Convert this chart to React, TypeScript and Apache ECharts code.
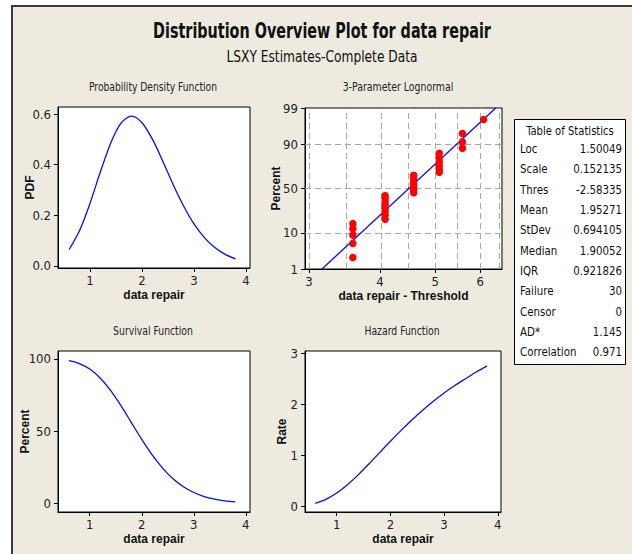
import React, { useEffect, useRef } from "react";
import * as echarts from "echarts";

// ---------- data ----------
const repairGrid = [0.6, 0.8, 1.0, 1.2, 1.4, 1.6, 1.8, 2.0, 2.2, 2.4, 2.6, 2.8, 3.0, 3.2, 3.4, 3.6, 3.8];
const pdfValues = [0.065, 0.14, 0.247, 0.372, 0.486, 0.565, 0.592, 0.566, 0.501, 0.414, 0.321, 0.237, 0.166, 0.112, 0.073, 0.046, 0.028];
const survivalValues = [98.8, 96.8, 93.0, 86.8, 78.2, 67.6, 55.9, 44.3, 33.5, 24.4, 17.0, 11.5, 7.5, 4.7, 2.9, 1.7, 1.0];
const hazardValues = [0.066, 0.144, 0.266, 0.428, 0.622, 0.836, 1.058, 1.279, 1.493, 1.696, 1.887, 2.063, 2.225, 2.371, 2.503, 2.634, 2.748];

// probability plot points (data repair - threshold, percent)
const probX = [
  3.583, 3.583, 3.583, 3.583, 3.583,
  4.083, 4.083, 4.083, 4.083, 4.083, 4.083, 4.083, 4.083,
  4.583, 4.583, 4.583, 4.583, 4.583, 4.583, 4.583,
  5.083, 5.083, 5.083, 5.083, 5.083, 5.083,
  5.583, 5.583, 5.583,
  6.083,
];
const probPercent = [
  2.3, 5.6, 8.9, 12.2, 15.5,
  18.8, 22.0, 25.3, 28.6, 31.9, 35.2, 38.5, 41.8,
  45.1, 48.4, 51.6, 54.9, 58.2, 61.5, 64.8,
  68.1, 71.4, 74.7, 78.0, 81.3, 84.5,
  87.8, 91.1, 94.4,
  97.7,
];
const fitLineX = [3.162, 6.388];
const fitLinePercent = [1, 99];

const percentTicks = [1, 10, 50, 90, 99];
const percentGrid = [10, 50, 90];
const thresholdTicks = [3, 4, 5, 6];
const thresholdGrid = [3, 3.5, 4, 4.5, 5, 5.5, 6, 6.5];

const pdfTicks = [0, 0.2, 0.4, 0.6];
const repairTicks = [1, 2, 3, 4];
const survivalTicks = [0, 50, 100];
const hazardTicks = [0, 1, 2, 3];

const statLabels = ["Loc", "Scale", "Thres", "Mean", "StDev", "Median", "IQR", "Failure", "Censor", "AD*", "Correlation"];
const statValues = ["1.50049", "0.152135", "-2.58335", "1.95271", "0.694105", "1.90052", "0.921826", "30", "0", "1.145", "0.971"];

// ---------- helpers ----------
function probit(p: number): number {
  const a = [-39.69683028665376, 220.9460984245205, -275.9285104469687, 138.357751867269, -30.66479806614716, 2.506628277459239];
  const b = [-54.47609879822406, 161.5858368580409, -155.6989798598866, 66.80131188771972, -13.28068155288572];
  const c = [-0.007784894002430293, -0.3223964580411365, -2.400758277161838, -2.549732539343734, 4.374664141464968, 2.938163982698783];
  const d = [0.007784695709041462, 0.3224671290700398, 2.445134137142996, 3.754408661907416];
  const pl = 0.02425;
  if (p < pl) {
    const q = Math.sqrt(-2 * Math.log(p));
    return (((((c[0] * q + c[1]) * q + c[2]) * q + c[3]) * q + c[4]) * q + c[5]) / ((((d[0] * q + d[1]) * q + d[2]) * q + d[3]) * q + 1);
  }
  if (p <= 1 - pl) {
    const q = p - 0.5;
    const r = q * q;
    return ((((((a[0] * r + a[1]) * r + a[2]) * r + a[3]) * r + a[4]) * r + a[5]) * q) / (((((b[0] * r + b[1]) * r + b[2]) * r + b[3]) * r + b[4]) * r + 1);
  }
  const q = Math.sqrt(-2 * Math.log(1 - p));
  return -(((((c[0] * q + c[1]) * q + c[2]) * q + c[3]) * q + c[4]) * q + c[5]) / ((((d[0] * q + d[1]) * q + d[2]) * q + d[3]) * q + 1);
}
const z = (pct: number) => probit(pct / 100);

const NARROW = "'Liberation Sans Narrow','Arial Narrow','DejaVu Sans Condensed',sans-serif";
const SANS = "'Liberation Sans',Arial,sans-serif";
const BLUE = "#0a0aff";

function xAxisDef(gridIndex: number, min: number, max: number, ticks: number[], name: string, fmt?: (v: number) => string) {
  return {
    type: "value",
    gridIndex,
    min,
    max,
    name,
    nameLocation: "middle",
    nameGap: 21,
    nameMoveOverlap: false,
    nameTextStyle: { fontFamily: SANS, fontWeight: "bold", fontSize: 12, color: "#111" },
    axisLine: { show: true, onZero: false, lineStyle: { color: "#000", width: 1 } },
    axisTick: { show: true, length: 4, customValues: ticks, lineStyle: { color: "#000" } },
    axisLabel: {
      customValues: ticks,
      margin: 6,
      fontFamily: NARROW,
      fontSize: 13,
      color: "#222",
      formatter: fmt || ((v: number) => String(v)),
    },
    splitLine: { show: false },
  };
}
function yAxisDef(gridIndex: number, min: number, max: number, ticks: number[], name: string, nameGap: number, fmt?: (v: number) => string) {
  return {
    type: "value",
    gridIndex,
    min,
    max,
    name,
    nameLocation: "middle",
    nameGap,
    nameRotate: 90,
    nameMoveOverlap: false,
    nameTextStyle: { fontFamily: SANS, fontWeight: "bold", fontSize: 12, color: "#111" },
    axisLine: { show: true, onZero: false, lineStyle: { color: "#000", width: 1 } },
    axisTick: { show: true, length: 4, customValues: ticks, lineStyle: { color: "#000" } },
    axisLabel: {
      customValues: ticks,
      margin: 7,
      fontFamily: NARROW,
      fontSize: 13,
      color: "#222",
      formatter: fmt || ((v: number) => String(v)),
    },
    splitLine: { show: false },
  };
}

function text(t: string, x: number, y: number, font: string, align = "center", fill = "#111", sx = 1) {
  return {
    type: "text",
    x,
    y,
    scaleX: sx,
    silent: true,
    z: 10,
    style: { text: t, font, fill, align, verticalAlign: "middle", textAlign: align, textVerticalAlign: "middle" },
  };
}

export default function App() {
  const ref = useRef<HTMLDivElement>(null);
  useEffect(() => {
    if (!ref.current) return;
    const chart = echarts.init(ref.current, null, { renderer: "svg" });

    const gridStyle = { show: true, backgroundColor: "#ffffff", borderColor: "#000", borderWidth: 1, outerBoundsMode: "none", containLabel: false };

    const statTexts: any[] = [];
    statLabels.forEach((lab, i) => {
      const y = 149 + i * 20.3;
      statTexts.push(text(lab, 520, y, `12px ${NARROW}`, "left", "#111", 0.95));
      statTexts.push(text(statValues[i], 622, y, `12px ${NARROW}`, "right", "#111", 0.95));
    });

    const option: any = {
      animation: false,
      backgroundColor: "#ffffff",
      grid: [
        { ...gridStyle, left: 58, top: 107, width: 192, height: 161 },
        { ...gridStyle, left: 305, top: 108, width: 197, height: 161 },
        { ...gridStyle, left: 58, top: 351, width: 192, height: 161 },
        { ...gridStyle, left: 305, top: 351, width: 196, height: 161 },
      ],
      xAxis: [
        xAxisDef(0, 0.385, 4.077, repairTicks, "data repair"),
        xAxisDef(1, Math.log(2.952), Math.log(6.553), thresholdTicks.map(Math.log), "data repair - Threshold", (v: number) => String(Math.round(Math.exp(v)))),
        xAxisDef(2, 0.39, 4.08, repairTicks, "data repair"),
        xAxisDef(3, 0.41, 4.06, repairTicks, "data repair"),
      ],
      yAxis: [
        yAxisDef(0, -0.008, 0.628, pdfTicks, "PDF", 22, (v: number) => v.toFixed(1)),
        yAxisDef(1, z(1), z(99), percentTicks.map(z), "Percent", 23, (v: number) => {
          let best = percentTicks[0];
          percentTicks.forEach((p) => {
            if (Math.abs(z(p) - v) < Math.abs(z(best) - v)) best = p;
          });
          return String(best);
        }),
        yAxisDef(2, -6, 105.5, survivalTicks, "Percent", 27),
        yAxisDef(3, -0.104, 3.045, hazardTicks, "Rate", 17),
      ],
      series: [
        {
          type: "line",
          xAxisIndex: 0,
          yAxisIndex: 0,
          data: repairGrid.map((x, i) => [x, pdfValues[i]]),
          showSymbol: false,
          symbol: "none",
          smooth: 0.3,
          lineStyle: { color: BLUE, width: 1.3 },
          z: 5,
        },
        {
          type: "line",
          xAxisIndex: 1,
          yAxisIndex: 1,
          data: fitLineX.map((x, i) => [Math.log(x), z(fitLinePercent[i])]),
          showSymbol: false,
          symbol: "none",
          lineStyle: { color: BLUE, width: 1.3 },
          z: 5,
          markLine: {
            silent: true,
            symbol: "none",
            z: 1,
            label: { show: false },
            lineStyle: { color: "#a8a8a8", width: 1, type: [6, 4] },
            emphasis: { disabled: true },
            data: [
              ...thresholdGrid.map((v) => ({ xAxis: Math.log(v) })),
              ...percentGrid.map((p) => ({ yAxis: z(p) })),
            ],
          },
        },
        {
          type: "scatter",
          xAxisIndex: 1,
          yAxisIndex: 1,
          data: probX.map((x, i) => [Math.log(x), z(probPercent[i])]),
          symbol: "circle",
          symbolSize: 7.5,
          itemStyle: { color: "#ff0000", opacity: 1 },
          z: 6,
        },
        {
          type: "line",
          xAxisIndex: 2,
          yAxisIndex: 2,
          data: repairGrid.map((x, i) => [x, survivalValues[i]]),
          showSymbol: false,
          symbol: "none",
          smooth: 0.3,
          lineStyle: { color: BLUE, width: 1.3 },
          z: 5,
        },
        {
          type: "line",
          xAxisIndex: 3,
          yAxisIndex: 3,
          data: repairGrid.map((x, i) => [x, hazardValues[i]]),
          showSymbol: false,
          symbol: "none",
          smooth: 0.3,
          lineStyle: { color: BLUE, width: 1.3 },
          z: 5,
        },
      ],
      graphic: [
        {
          type: "rect",
          z: -100,
          silent: true,
          shape: { x: 12, y: 6, width: 660, height: 600 },
          style: { fill: "#eeeae0", stroke: "#3a3a3a", lineWidth: 2 },
        },
        text("Distribution Overview Plot for data repair", 322, 31, `bold 21px ${NARROW}`, "center", "#111", 0.76),
        text("LSXY Estimates-Complete Data", 322, 56, `16px ${NARROW}`, "center", "#111", 0.85),
        text("Probability Density Function", 153, 87, `12px ${NARROW}`, "center", "#222", 0.85),
        text("3-Parameter Lognormal", 398, 87, `12px ${NARROW}`, "center", "#222", 0.87),
        text("Survival Function", 153, 331, `12px ${NARROW}`, "center", "#222", 0.86),
        text("Hazard Function", 402, 331, `12px ${NARROW}`, "center", "#222", 0.86),
        {
          type: "rect",
          z: 9,
          silent: true,
          shape: { x: 514.5, y: 119.5, width: 111, height: 245 },
          style: { fill: "#ffffff", stroke: "#000", lineWidth: 1 },
        },
        text("Table of Statistics", 570, 131, `12px ${NARROW}`, "center", "#111", 0.93),
        ...statTexts,
      ],
    };
    chart.setOption(option);
    return () => chart.dispose();
  }, []);
  return <div ref={ref} style={{ position: "fixed", left: 0, top: 0, width: 632, height: 554 }} />;
}
